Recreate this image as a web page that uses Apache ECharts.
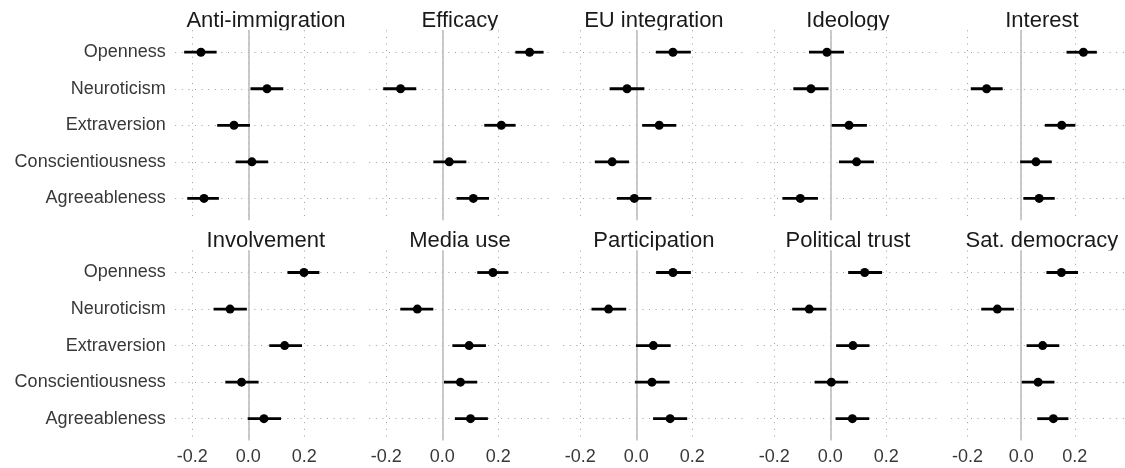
<!DOCTYPE html>
<html><head><meta charset="utf-8">
<script src="https://cdn.jsdelivr.net/npm/echarts@6/dist/echarts.min.js"></script>
<style>html,body{margin:0;padding:0;background:#fff}#c{width:1125px;height:468px}</style>
</head><body><div id="c"></div>
<script>
// ---- data ----
const categories = ['Openness', 'Neuroticism', 'Extraversion', 'Conscientiousness', 'Agreeableness'];
const panelTitles = ['Anti-immigration', 'Efficacy', 'EU integration', 'Ideology', 'Interest',
                     'Involvement', 'Media use', 'Participation', 'Political trust', 'Sat. democracy'];
const xTicks = [-0.2, 0.0, 0.2];

const antiImmigrationEst  = [-0.169, 0.067, -0.051, 0.013, -0.158];
const antiImmigrationLow  = [-0.229, 0.008, -0.111, -0.045, -0.218];
const antiImmigrationHigh = [-0.113, 0.125, 0.006, 0.071, -0.105];

const efficacyEst  = [0.312, -0.149, 0.211, 0.025, 0.111];
const efficacyLow  = [0.261, -0.211, 0.150, -0.032, 0.051];
const efficacyHigh = [0.362, -0.093, 0.262, 0.086, 0.167];

const euIntegrationEst  = [0.131, -0.033, 0.082, -0.086, -0.007];
const euIntegrationLow  = [0.070, -0.095, 0.021, -0.148, -0.069];
const euIntegrationHigh = [0.195, 0.029, 0.143, -0.026, 0.054];

const ideologyEst  = [-0.012, -0.069, 0.067, 0.094, -0.107];
const ideologyLow  = [-0.076, -0.132, 0.005, 0.031, -0.171];
const ideologyHigh = [0.049, -0.006, 0.131, 0.156, -0.044];

const interestEst  = [0.232, -0.129, 0.151, 0.055, 0.067];
const interestLow  = [0.169, -0.188, 0.088, -0.004, 0.008];
const interestHigh = [0.282, -0.069, 0.202, 0.114, 0.125];

const involvementEst  = [0.199, -0.065, 0.130, -0.024, 0.056];
const involvementLow  = [0.140, -0.124, 0.075, -0.082, -0.002];
const involvementHigh = [0.254, -0.005, 0.192, 0.037, 0.117];

const mediaUseEst  = [0.181, -0.089, 0.096, 0.065, 0.101];
const mediaUseLow  = [0.125, -0.150, 0.036, 0.006, 0.045];
const mediaUseHigh = [0.236, -0.032, 0.156, 0.125, 0.163];

const participationEst  = [0.131, -0.099, 0.061, 0.056, 0.121];
const participationLow  = [0.071, -0.160, -0.001, -0.005, 0.060];
const participationHigh = [0.195, -0.036, 0.123, 0.119, 0.182];

const politicalTrustEst  = [0.123, -0.075, 0.081, 0.004, 0.079];
const politicalTrustLow  = [0.064, -0.136, 0.021, -0.056, 0.019];
const politicalTrustHigh = [0.185, -0.014, 0.140, 0.064, 0.139];

const satDemocracyEst  = [0.150, -0.089, 0.080, 0.063, 0.120];
const satDemocracyLow  = [0.094, -0.149, 0.020, 0.002, 0.060];
const satDemocracyHigh = [0.212, -0.027, 0.142, 0.124, 0.176];

const panelEst  = [antiImmigrationEst, efficacyEst, euIntegrationEst, ideologyEst, interestEst,
                   involvementEst, mediaUseEst, participationEst, politicalTrustEst, satDemocracyEst];
const panelLow  = [antiImmigrationLow, efficacyLow, euIntegrationLow, ideologyLow, interestLow,
                   involvementLow, mediaUseLow, participationLow, politicalTrustLow, satDemocracyLow];
const panelHigh = [antiImmigrationHigh, efficacyHigh, euIntegrationHigh, ideologyHigh, interestHigh,
                   involvementHigh, mediaUseHigh, participationHigh, politicalTrustHigh, satDemocracyHigh];

// ---- layout ----
const FONT = "'Liberation Sans', Arial, Helvetica, sans-serif";
const X_MIN = -0.261, X_MAX = 0.387;
const LEFT0 = 175.2, STEP = 194, PW = 181.4, PH = 190;
const ROW_TOP = [30.3, 250.6];
const TITLE_Y = [20.7, 241.4];
const gridStyle = { color: '#9c9c9c', width: 1, type: [1, 5.6] };
const catIdx = categories.map((c, i) => i);
const AXIS_TEXT = '#383838';

const grids = [], xAxes = [], yAxes = [], series = [], graphics = [];

for (let i = 0; i < panelTitles.length; i++) {
  const row = Math.floor(i / 5), col = i % 5;
  const left = LEFT0 + col * STEP, top = ROW_TOP[row];
  grids.push({ left: left, top: top, width: PW, height: PH, containLabel: false });
  xAxes.push({
    type: 'value', gridIndex: i, min: X_MIN, max: X_MAX, z: 3,
    axisLine: { show: false },
    axisTick: { show: false, customValues: xTicks },
    axisLabel: { show: row === 1, customValues: xTicks, formatter: v => v.toFixed(1),
                 fontSize: 18, color: AXIS_TEXT, fontFamily: FONT, margin: 7 },
    splitLine: { show: true, lineStyle: gridStyle }
  });
  yAxes.push({
    type: 'value', gridIndex: i, min: -0.6, max: 4.6, inverse: true, z: 3,
    axisLine: { show: false },
    axisTick: { show: false, customValues: catIdx },
    axisLabel: { show: col === 0, customValues: catIdx, formatter: v => categories[Math.round(v)] || '',
                 fontSize: 18, color: AXIS_TEXT, fontFamily: FONT, margin: 9.5 },
    splitLine: { show: true, lineStyle: gridStyle }
  });
  series.push({
    type: 'custom', xAxisIndex: i, yAxisIndex: i, z: 5,
    data: categories.map((c, k) => [panelLow[i][k], panelHigh[i][k], k]),
    encode: { x: [0, 1], y: 2 },
    renderItem: (params, api) => {
      const y = api.value(2);
      const p1 = api.coord([api.value(0), y]);
      const p2 = api.coord([api.value(1), y]);
      return { type: 'line', shape: { x1: p1[0], y1: p1[1], x2: p2[0], y2: p2[1] },
               style: { stroke: '#000', lineWidth: 2.8 } };
    },
    markLine: {
      silent: true, z: 4, symbol: ['none', 'none'], label: { show: false },
      lineStyle: { color: '#bdbdbd', width: 1.6, type: 'solid' },
      data: [{ xAxis: 0 }]
    }
  });
  series.push({
    type: 'scatter', xAxisIndex: i, yAxisIndex: i, z: 6,
    symbol: 'circle', symbolSize: 9,
    itemStyle: { color: '#000', opacity: 1 },
    data: categories.map((c, k) => [panelEst[i][k], k])
  });
  graphics.push({
    type: 'text', z: 1, x: left + PW / 2, y: TITLE_Y[row],
    style: { text: panelTitles[i], font: '22px ' + FONT, fill: '#1a1a1a',
             align: 'center', verticalAlign: 'middle' }
  });
}
// strip clipping (panel top cuts the title descenders)
graphics.push({ type: 'rect', z: 2, shape: { x: 0, y: ROW_TOP[0], width: 1125, height: 10 }, style: { fill: '#fff' } });
graphics.push({ type: 'rect', z: 2, shape: { x: 0, y: ROW_TOP[1], width: 1125, height: 10 }, style: { fill: '#fff' } });

const chart = echarts.init(document.getElementById('c'), null, { renderer: 'canvas' });
chart.setOption({
  animation: false,
  backgroundColor: '#fff',
  grid: grids, xAxis: xAxes, yAxis: yAxes, series: series,
  graphic: { elements: graphics }
});
</script></body></html>
